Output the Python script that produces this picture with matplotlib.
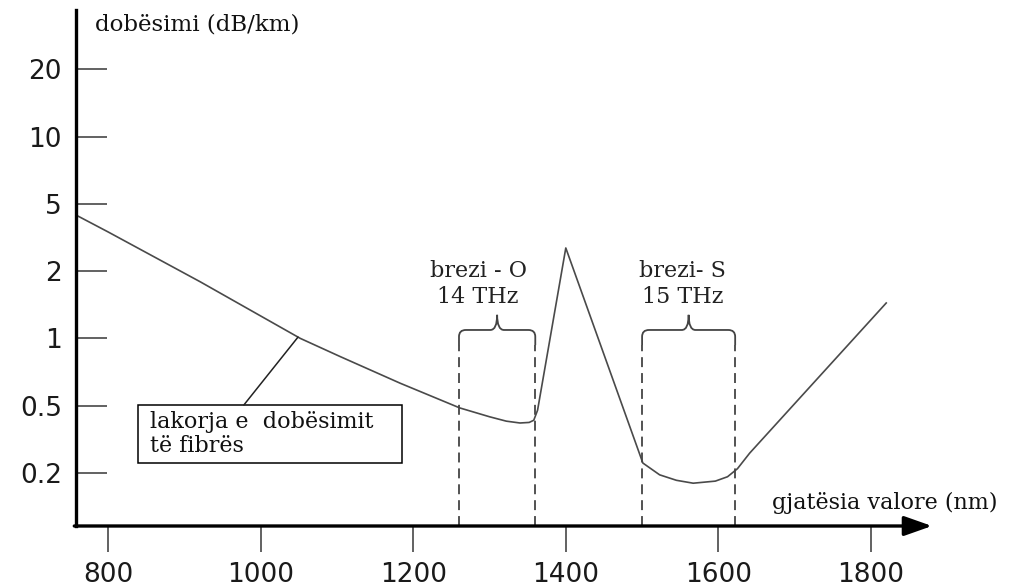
import numpy as np
import matplotlib.pyplot as plt
from matplotlib.path import Path
from matplotlib.patches import PathPatch, Rectangle

# fibre attenuation curve (nm, dB/km)
wavelength = [758, 800, 921, 1052, 1104, 1183, 1261, 1300, 1322, 1340, 1352, 1358, 1363,
              1400, 1501, 1523, 1545, 1567, 1596, 1612, 1625, 1641, 1820]
attenuation = [4.29, 3.41, 1.79, 1.00, 0.83, 0.63, 0.485, 0.43, 0.405, 0.395, 0.398, 0.41, 0.47,
               2.74, 0.229, 0.195, 0.181, 0.174, 0.179, 0.19, 0.212, 0.262, 1.44]

y_ticks = [0.2, 0.5, 1, 2, 5, 10, 20]
y_labels = ["0.2", "0.5", "1", "2", "5", "10", "20"]
x_ticks = [800, 1000, 1200, 1400, 1600, 1800]

band_edges = [(1260, 1360), (1500, 1622)]
band_labels = ["brezi - O\n14 THz", "brezi- S\n15 THz"]


def to_level(v):
    # the y axis puts the tick values at equal spacing
    lv = np.log10(np.atleast_1d(np.asarray(v, dtype=float)))
    lt = np.log10(y_ticks)
    out = np.interp(lv, lt, np.arange(len(y_ticks), dtype=float))
    lo = lv < lt[0]
    out[lo] = (lv[lo] - lt[0]) / (lt[1] - lt[0])
    hi = lv > lt[-1]
    out[hi] = len(y_ticks) - 1 + (lv[hi] - lt[-1]) / (lt[-1] - lt[-2])
    return out


def brace(ax, x0, x1, yb, yt, yc, rx=9, ry=0.1):
    xm = (x0 + x1) / 2
    verts = [(x0, yb), (x0, yt - ry), (x0, yt), (x0 + rx, yt),
             (xm - rx, yt), (xm, yt), (xm, yc),
             (xm, yt), (xm + rx, yt),
             (x1 - rx, yt), (x1, yt), (x1, yt - ry), (x1, yb)]
    codes = [Path.MOVETO, Path.LINETO, Path.CURVE3, Path.CURVE3,
             Path.LINETO, Path.CURVE3, Path.CURVE3,
             Path.CURVE3, Path.CURVE3,
             Path.LINETO, Path.CURVE3, Path.CURVE3, Path.LINETO]
    ax.add_patch(PathPatch(Path(verts, codes), fc="none", ec="#444", lw=1.3))


serif = "DejaVu Serif"
sans = "DejaVu Sans"

fig = plt.figure(figsize=(10.12, 5.87), dpi=100)
ax = fig.add_axes([76 / 1012, 61 / 587, 856 / 1012, 516 / 587])
ax.set_xlim(758, 1880)
y_bottom, y_top = -0.788, 6.88
ax.set_ylim(y_bottom, y_top)

curve = to_level(attenuation)
ax.plot(wavelength, curve, color="#4a4a4a", lw=1.2)

# bands with dashed edges and braces
yb, yt, yc = 1.90, 2.125, 2.35
for (x0, x1), lab, dx in zip(band_edges, band_labels, [-25, -8]):
    ax.vlines([x0, x1], y_bottom, yb, colors="#444", lw=1.3,
              linestyles=(0, (5.5, 3.3)))
    brace(ax, x0, x1, yb, yt, yc)
    ax.text((x0 + x1) / 2 + dx, 2.81, lab, ha="center", va="center",
            fontsize=16, family=serif, color="#222", linespacing=1.2)

# curve label box
ax.add_patch(Rectangle((839, 0.149), 346, 0.861, fc="white", ec="black", lw=1.1, zorder=3))
ax.text(855, 0.58, "lakorja e  dobësimit\ntë fibrës", ha="left", va="center",
        fontsize=16, family=serif, color="#111", linespacing=1.15, zorder=4)
x_hit = 1049
ax.annotate("", xy=(x_hit, np.interp(x_hit, wavelength, curve)), xytext=(978, 1.01),
            arrowprops=dict(arrowstyle="-", color="#222", lw=1.1,
                            shrinkA=0, shrinkB=0))

# axes
for s in ["top", "right", "bottom"]:
    ax.spines[s].set_visible(False)
ax.spines["left"].set_linewidth(2.4)
ax.spines["left"].set_color("black")
ax.annotate("", xy=(1.0, 0), xytext=(-0.002, 0), xycoords="axes fraction",
            arrowprops=dict(arrowstyle="-|>,head_length=1.7,head_width=0.6",
                            lw=2.4, color="black", shrinkA=0, shrinkB=0),
            annotation_clip=False)

ax.set_yticks(to_level(y_ticks))
ax.set_yticklabels(y_labels)
ax.set_xticks(x_ticks)
ax.set_xticklabels([str(t) for t in x_ticks])
ax.tick_params(axis="y", direction="in", length=22, width=1.3, color="#555",
               pad=10, labelsize=19, labelcolor="#1a1a1a")
ax.tick_params(axis="x", direction="out", length=19, width=1.3, color="#555",
               pad=7, labelsize=19, labelcolor="#1a1a1a")
for lab in ax.get_xticklabels() + ax.get_yticklabels():
    lab.set_family(sans)

ax.text(783, 6.67, "dobësimi (dB/km)", ha="left", va="center",
        fontsize=16.5, family=serif, color="#111")
ax.text(1670, -0.446, "gjatësia valore (nm)", ha="left", va="center",
        fontsize=16, family=serif, color="#111", clip_on=False)

fig.savefig("out.png", dpi=100)
